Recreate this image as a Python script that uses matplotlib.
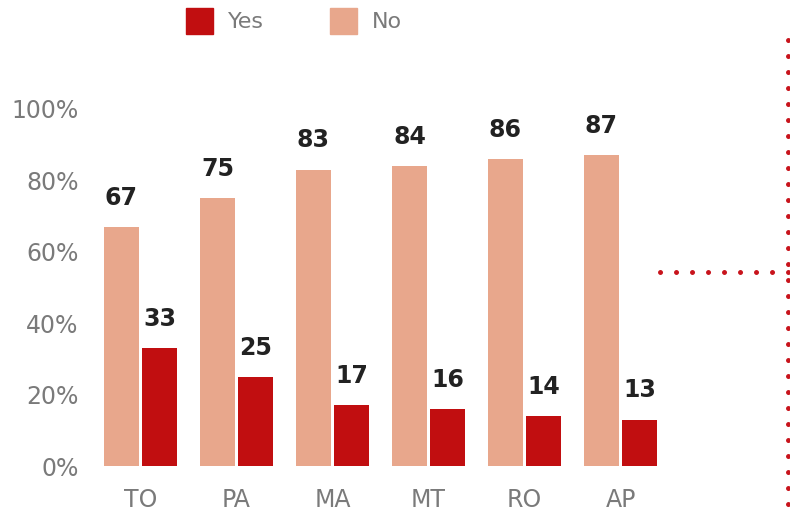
import matplotlib.pyplot as plt
from matplotlib.lines import Line2D
from matplotlib.patches import Patch

# data
states = ["TO", "PA", "MA", "MT", "RO", "AP"]
yes_pct = [33, 25, 17, 16, 14, 13]
no_pct = [67, 75, 83, 84, 86, 87]

yes_color = "#c10e10"
no_color = "#e8a78c"
grey = "#7a7a7a"

W, H = 790, 511
fig = plt.figure(figsize=(W / 100, H / 100), dpi=100)

# axes placed in pixel terms: 6 categories, 96 px apart
ax = fig.add_axes([92.5 / W, 45 / H, 576 / W, 357 / H])
ax.set_xlim(-0.5, 5.5)
ax.set_ylim(0, 100)

bar_w = 35 / 96
off = 19 / 96
x = list(range(len(states)))

no_bars = ax.bar([i - off for i in x], no_pct, width=bar_w, color=no_color)
yes_bars = ax.bar([i + off for i in x], yes_pct, width=bar_w, color=yes_color)

# value labels above bars
for bars, vals in ((no_bars, no_pct), (yes_bars, yes_pct)):
    for b, v in zip(bars, vals):
        ax.annotate(str(v), (b.get_x() + b.get_width() / 2, v),
                    xytext=(0, 16), textcoords="offset points",
                    ha="center", va="baseline", fontsize=17,
                    fontweight="bold", color="#222222", clip_on=False)

ax.set_xticks(x)
ax.set_xticklabels(states)
ax.set_yticks([0, 20, 40, 60, 80, 100])
ax.set_yticklabels([f"{t}%" for t in [0, 20, 40, 60, 80, 100]])
ax.tick_params(axis="both", length=0, labelsize=17, labelcolor=grey)
ax.tick_params(axis="x", pad=16)
ax.tick_params(axis="y", pad=10)
for s in ax.spines.values():
    s.set_visible(False)

# legend at the top
handles = [Patch(color=yes_color), Patch(color=no_color)]
leg = fig.legend(handles, ["Yes", "No"], loc="upper left",
                 bbox_to_anchor=(186 / W, 1 - 8 / H), ncol=2, frameon=False,
                 fontsize=16, labelcolor=grey, handlelength=1.22,
                 handleheight=1.4, handletextpad=0.65, columnspacing=3.0,
                 borderpad=0, borderaxespad=0)

# dotted red guide lines on the right
dot = dict(color="#c8141c", linewidth=3.6, linestyle=(0, (0.01, 3.19)),
           dash_capstyle="round", transform=fig.transFigure)
fig.add_artist(Line2D([788 / W, 788 / W], [1 - 40 / H, 0], **dot))
fig.add_artist(Line2D([660 / W, 792 / W], [1 - 272 / H, 1 - 272 / H], **dot))

fig.savefig("out.png", dpi=100)
